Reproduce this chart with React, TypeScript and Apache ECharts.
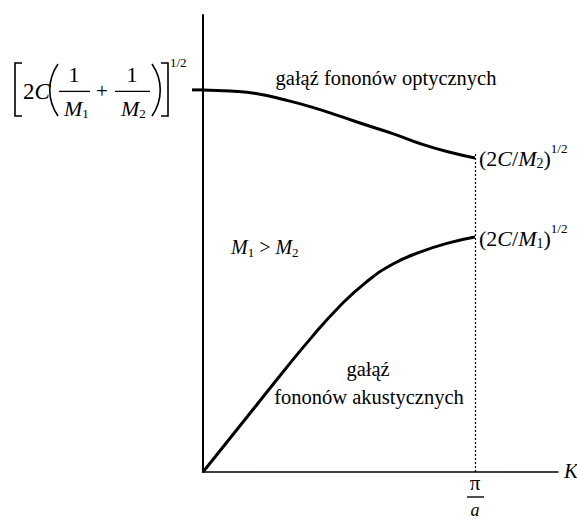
import React, { useEffect, useRef } from "react";
import * as echarts from "echarts";

// wave vector K in units of pi/a
const kValues = [0, 0.1, 0.2, 0.3, 0.4, 0.5, 0.6, 0.7, 0.8, 0.9, 1.0];
// frequency, normalised to the optical value at K = 0
const opticalBranch = [1.0, 0.997, 0.99, 0.974, 0.955, 0.932, 0.908, 0.885, 0.859, 0.838, 0.822];
const acousticBranch = [0, 0.089, 0.178, 0.267, 0.353, 0.432, 0.497, 0.545, 0.576, 0.599, 0.615];
const zoneEdgeK = 1;
const xAxisMax = 1.305;
const yAxisMax = 1.196;

const FONT = '"Liberation Serif", "Times New Roman", serif';

let ctx: CanvasRenderingContext2D | null = null;
function fontOf(size: number, italic?: boolean) {
  return `${italic ? "italic " : ""}${size}px ${FONT}`;
}
function measure(text: string, size: number, italic?: boolean) {
  if (!ctx) ctx = document.createElement("canvas").getContext("2d");
  if (!ctx) return text.length * size * 0.5;
  ctx.font = fontOf(size, italic);
  return ctx.measureText(text).width;
}

type Piece = { t: string; size: number; italic?: boolean; dy?: number };

function txt(t: string, x: number, y: number, size: number, italic = false, align = "center") {
  return {
    type: "text",
    x,
    y,
    silent: true,
    style: {
      text: t,
      font: fontOf(size, italic),
      fill: "#000",
      align,
      verticalAlign: "middle",
      textAlign: align,
      textVerticalAlign: "middle",
    },
  };
}

function seq(x: number, y: number, pieces: Piece[]) {
  const out: any[] = [];
  let cx = x;
  for (const p of pieces) {
    out.push(txt(p.t, cx, y + (p.dy || 0), p.size, !!p.italic, "left"));
    cx += measure(p.t, p.size, p.italic);
  }
  return out;
}

const lineStyle = { stroke: "#000", lineWidth: 1.6, fill: null };

export default function App() {
  const ref = useRef<HTMLDivElement>(null);
  useEffect(() => {
    if (!ref.current) return;
    const chart = echarts.init(ref.current, null, { renderer: "svg" });
    const optical = kValues.map((k, i) => [k, opticalBranch[i]]);
    const acoustic = kValues.map((k, i) => [k, acousticBranch[i]]);
    const axisCommon = {
      type: "value",
      axisLine: { show: true, onZero: false, lineStyle: { color: "#000", width: 1.6 } },
      axisTick: { show: false },
      axisLabel: { show: false },
      splitLine: { show: false },
    };
    chart.setOption({
      animation: false,
      backgroundColor: "#fff",
      grid: { left: 203, top: 15, width: 355, height: 457 },
      xAxis: { ...axisCommon, min: 0, max: xAxisMax },
      yAxis: { ...axisCommon, min: 0, max: yAxisMax, axisLine: { ...axisCommon.axisLine, lineStyle: { color: "#000", width: 2 } } },
      series: [
        {
          type: "line",
          name: "optical",
          data: optical,
          smooth: true,
          symbol: "none",
          lineStyle: { color: "#000", width: 3 },
        },
        {
          type: "line",
          name: "acoustic",
          data: acoustic,
          smooth: true,
          symbol: "none",
          lineStyle: { color: "#000", width: 3 },
          markLine: {
            silent: true,
            symbol: ["none", "none"],
            label: { show: false },
            lineStyle: { color: "#000", type: [2, 2], width: 1.2 },
            data: [[{ coord: [zoneEdgeK, 0] }, { coord: [zoneEdgeK, opticalBranch[opticalBranch.length - 1] + 0.01] }]],
          },
        },
      ],
    });

    const p0 = chart.convertToPixel({ gridIndex: 0 }, [0, opticalBranch[0]]) as number[];
    const pEdge = chart.convertToPixel({ gridIndex: 0 }, [zoneEdgeK, 0]) as number[];
    const pOptEnd = chart.convertToPixel({ gridIndex: 0 }, [zoneEdgeK, opticalBranch[opticalBranch.length - 1]]) as number[];
    const pAcEnd = chart.convertToPixel({ gridIndex: 0 }, [zoneEdgeK, acousticBranch[acousticBranch.length - 1]]) as number[];

    const els: any[] = [];
    // tick for optical value at K=0
    els.push({ type: "line", silent: true, shape: { x1: p0[0] - 11, y1: p0[1], x2: p0[0], y2: p0[1] }, style: { stroke: "#000", lineWidth: 3 } });

    // left formula  [2C(1/M1 + 1/M2)]^{1/2}
    const fy = p0[1] + 1.5;
    els.push({ type: "polyline", silent: true, shape: { points: [[22, 63], [15, 63], [15, 116], [22, 116]] }, style: lineStyle });
    els.push({ type: "polyline", silent: true, shape: { points: [[161, 63], [168, 63], [168, 116], [161, 116]] }, style: lineStyle });
    els.push({ type: "bezierCurve", silent: true, shape: { x1: 58, y1: 64, x2: 58, y2: 116, cpx1: 47, cpy1: 80, cpx2: 47, cpy2: 100 }, style: lineStyle });
    els.push({ type: "bezierCurve", silent: true, shape: { x1: 152, y1: 64, x2: 152, y2: 116, cpx1: 163, cpy1: 80, cpx2: 163, cpy2: 100 }, style: lineStyle });
    els.push(...seq(23, fy, [{ t: "2", size: 23 }, { t: "C", size: 23, italic: true }]));
    els.push(txt("1", 74, 74, 22));
    els.push({ type: "line", silent: true, shape: { x1: 59, y1: fy, x2: 90, y2: fy }, style: { stroke: "#000", lineWidth: 1.3 } });
    els.push(...seq(64, 108, [{ t: "M", size: 22, italic: true }, { t: "1", size: 13, dy: 5 }]));
    els.push(txt("+", 102, fy, 21));
    els.push(txt("1", 132, 74, 22));
    els.push({ type: "line", silent: true, shape: { x1: 115, y1: fy, x2: 150, y2: fy }, style: { stroke: "#000", lineWidth: 1.3 } });
    els.push(...seq(121, 108, [{ t: "M", size: 22, italic: true }, { t: "2", size: 13, dy: 5 }]));
    els.push(txt("1/2", 170, 62, 13, false, "left"));

    // branch labels
    els.push(txt("gałąź fononów optycznych", 386, 78, 20.5));
    els.push(...seq(231, 247, [
      { t: "M", size: 20, italic: true },
      { t: "1", size: 13, dy: 5 },
      { t: " > ", size: 20 },
      { t: "M", size: 20, italic: true },
      { t: "2", size: 13, dy: 5 },
    ]));
    els.push(txt("gałąź", 368, 369, 20.5));
    els.push(txt("fononów akustycznych", 369, 397, 20.5));

    // zone-edge labels
    const edgeLabel = (y: number, sub: string) =>
      seq(pEdge[0] + 4, y, [
        { t: "(2", size: 22 },
        { t: "C", size: 22, italic: true },
        { t: "/", size: 22 },
        { t: "M", size: 22, italic: true },
        { t: sub, size: 14, dy: 5 },
        { t: ")", size: 22 },
        { t: "1/2", size: 13, dy: -10 },
      ]);
    els.push(...edgeLabel(pOptEnd[1] + 1, "2"));
    els.push(...edgeLabel(pAcEnd[1] + 1, "1"));

    // axis labels
    els.push(txt("K", 564, pEdge[1] - 1, 21, true, "left"));
    els.push(txt("π", pEdge[0], pEdge[1] + 11, 21));
    els.push({ type: "line", silent: true, shape: { x1: pEdge[0] - 8, y1: pEdge[1] + 25, x2: pEdge[0] + 9, y2: pEdge[1] + 25 }, style: { stroke: "#000", lineWidth: 1.4 } });
    els.push(txt("a", pEdge[0], pEdge[1] + 38, 18, true));

    chart.setOption({ graphic: { elements: els } });
    return () => chart.dispose();
  }, []);
  return <div ref={ref} style={{ position: "absolute", left: 0, top: 0, width: 577, height: 520 }} />;
}
